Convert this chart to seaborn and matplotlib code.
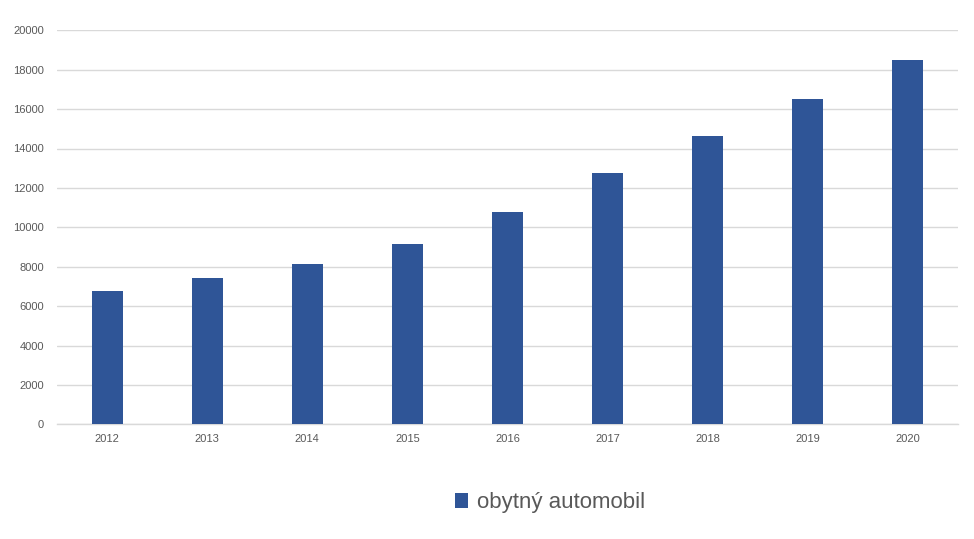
import matplotlib
matplotlib.use("Agg")
import matplotlib.pyplot as plt
import seaborn as sns
import pandas as pd

years = ["2012", "2013", "2014", "2015", "2016", "2017", "2018", "2019", "2020"]
values = [6770, 7430, 8140, 9150, 10780, 12760, 14640, 16510, 18490]
series_name = "obytný automobil"
yticks = [0, 2000, 4000, 6000, 8000, 10000, 12000, 14000, 16000, 18000, 20000]

sns.set_theme(style="white")
plt.rcParams['font.family'] = ['Liberation Sans', 'DejaVu Sans']

df = pd.DataFrame({"year": years, "value": values})

fig = plt.figure(figsize=(9.74, 5.39), dpi=100)
ax = fig.add_axes([57/974, 1 - 424.3/539, (958-57)/974, (424.3-30.3)/539])

sns.barplot(data=df, x="year", y="value", color="#2F5597", saturation=1,
            width=0.31, ax=ax, label=series_name, zorder=3, linewidth=0)

ax.set_ylim(0, 20000)
ax.set_xlim(-0.5, len(years) - 0.5)
ax.set_yticks(yticks)
ax.set_yticklabels([str(t) for t in yticks])
ax.yaxis.grid(True, color="#D9D9D9", linewidth=1, zorder=0)
ax.set_axisbelow(True)
for s in ax.spines.values():
    s.set_visible(False)
ax.spines["bottom"].set_visible(True)
ax.spines["bottom"].set_color("#D9D9D9")
ax.spines["bottom"].set_linewidth(1)
ax.tick_params(axis="both", length=0, labelsize=8, colors="#595959", pad=7)
ax.tick_params(axis="y", pad=9.4)
ax.set_xlabel("")
ax.set_ylabel("")
leg = ax.get_legend()
if leg is not None:
    leg.remove()

handles, labels = ax.get_legend_handles_labels()
fig.legend(handles, labels, loc="center", bbox_to_anchor=(0.565, 0.067),
           frameon=False, fontsize=16, labelcolor="#595959",
           handlelength=0.6, handleheight=0.6, handletextpad=0.4)

fig.savefig("out.png", dpi=100)
